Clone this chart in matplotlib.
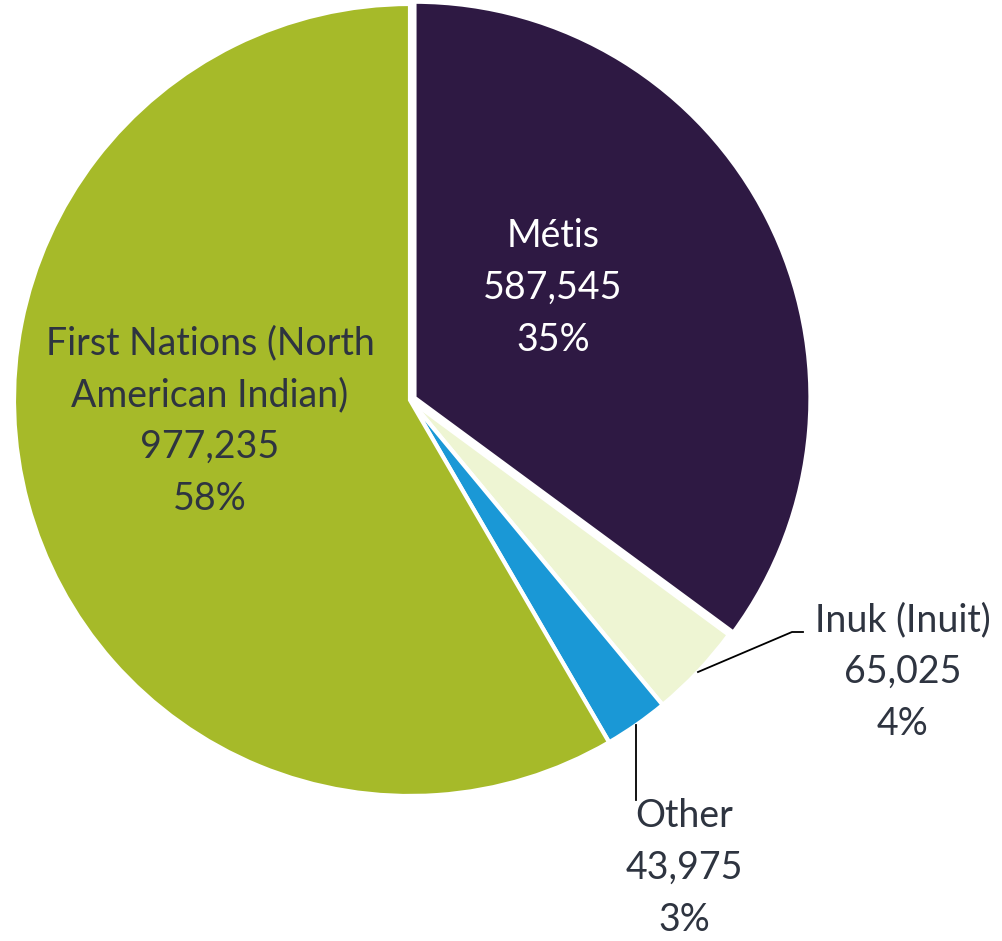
import matplotlib.pyplot as plt

plt.rcParams["font.family"] = ["Lato", "DejaVu Sans"]

W, H = 1002, 941

groups = ["Métis", "Inuk (Inuit)", "Other", "First Nations (North\nAmerican Indian)"]
counts = [587545, 65025, 43975, 977235]
shares = ["35%", "4%", "3%", "58%"]
colors = ["#2E1943", "#EEF5D3", "#1A98D6", "#A6BA29"]
text_colors = ["white", "#2E3440", "#2E3440", "#2E3440"]

# label anchor (pixel coords, top-left origin) for the first line of each label
label_pos = [(553, 236), (903, 620), (684, 816), (210, 343)]
line_gap = 52

fig = plt.figure(figsize=(W / 100, H / 100), dpi=100)
ax = fig.add_axes([0, 0, 1, 1])

ax.pie(
    counts,
    colors=colors,
    startangle=90,
    counterclock=False,
    radius=396,
    center=(410, H - 400),
    explode=[5, 0, 0, 0],
    wedgeprops=dict(edgecolor="white", linewidth=3),
    frame=True,
)
ax.set_xlim(0, W)
ax.set_ylim(0, H)
ax.set_aspect("equal")
ax.axis("off")

for name, n, pct, tc, (x, y) in zip(groups, counts, shares, text_colors, label_pos):
    lines = name.split("\n") + [f"{n:,}", pct]
    for i, line in enumerate(lines):
        ax.text(x, H - (y + i * line_gap), line, ha="center", va="center",
                fontsize=27, color=tc)

# leader lines
ax.plot([698, 792, 803], [H - 672, H - 632, H - 632], color="black", lw=1.3)
ax.plot([636, 636], [H - 725, H - 800], color="black", lw=1.3)

fig.savefig("out.png", dpi=100)
